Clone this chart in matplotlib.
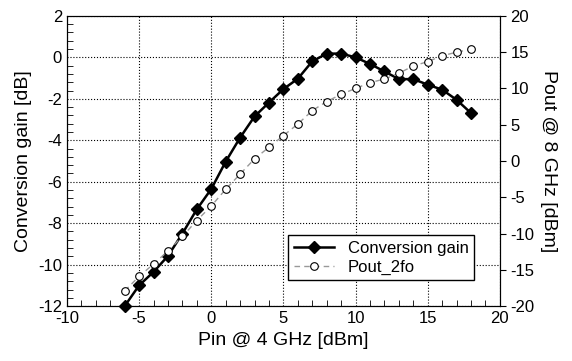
import numpy as np
import matplotlib
matplotlib.use('Agg')
import matplotlib.pyplot as plt
from matplotlib.ticker import MultipleLocator

plt.rcParams['font.family'] = ['Liberation Sans', 'DejaVu Sans']
plt.rcParams['axes.unicode_minus'] = False

# Données
pin_dbm = [-6, -5, -4, -3, -2, -1, 0, 1, 2, 3, 4, 5, 6, 7, 8, 9, 10, 11, 12,
           13, 14, 15, 16, 17, 18]
conv_gain = [-12.0, -11.0, -10.35, -9.58, -8.5, -7.33, -6.35, -5.03, -3.87,
             -2.85, -2.18, -1.53, -1.03, -0.19, 0.18, 0.18, 0.0, -0.32, -0.68,
             -1.05, -1.05, -1.32, -1.56, -2.05, -2.69]
pout_2fo = [-17.9, -15.9, -14.2, -12.4, -10.4, -8.2, -6.2, -3.9, -1.8, 0.3,
            1.9, 3.5, 5.1, 6.95, 8.2, 9.2, 10.0, 10.8, 11.3, 12.1, 13.1, 13.7,
            14.5, 15.0, 15.4]

fig = plt.figure(figsize=(5.72, 3.61), dpi=100)
ax = fig.add_axes([0.117, 0.152, 0.757, 0.804])
ax2 = ax.twinx()

l1, = ax.plot(pin_dbm, conv_gain, color='black', lw=1.8, marker='D',
              markersize=6, label='Conversion gain', clip_on=False, zorder=4)
l2, = ax2.plot(pin_dbm, pout_2fo, color='#999999', lw=1.0, ls=(0, (4, 3)),
               marker='o', markersize=5.5, markerfacecolor='white',
               markeredgecolor='black', markeredgewidth=0.8, label='Pout_2fo')

ax.set_xlim(-10, 20)
ax.set_ylim(-12, 2)
ax2.set_ylim(-20, 20)

ax.xaxis.set_major_locator(MultipleLocator(5))
ax.xaxis.set_minor_locator(MultipleLocator(1))
ax.yaxis.set_major_locator(MultipleLocator(2))
ax.yaxis.set_minor_locator(MultipleLocator(0.4))
ax2.yaxis.set_major_locator(MultipleLocator(5))

ax.grid(True, which='major', color='black', ls=':', lw=0.8)
ax.tick_params(which='both', direction='in', top=False, right=False, labelsize=12)
ax.tick_params(which='major', length=0)
ax.tick_params(which='minor', length=4)
ax2.tick_params(direction='out', length=4, labelsize=12)

ax.set_xlabel('Pin @ 4 GHz [dBm]', fontsize=14)
ax.set_ylabel('Conversion gain [dB]', fontsize=14, labelpad=4)
ax2.set_ylabel('Pout @ 8 GHz [dBm]', fontsize=14, rotation=-90, labelpad=16)

leg = ax.legend(handles=[l1, l2], loc='lower right', bbox_to_anchor=(0.96, 0.06),
                fontsize=12, fancybox=False, framealpha=1, edgecolor='black',
                borderpad=0.35, handlelength=2.4, labelspacing=0.2)
leg.get_frame().set_linewidth(1.0)

fig.savefig('out.png', dpi=100)
